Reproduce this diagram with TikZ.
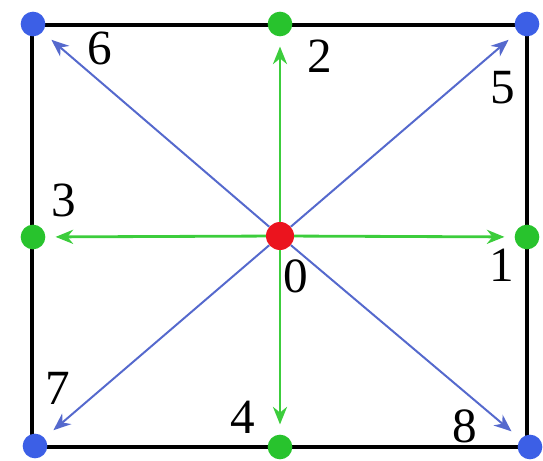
\documentclass[tikz,border=0pt]{standalone}
\usepackage{fontspec}
\setmainfont{Liberation Serif}
\usetikzlibrary{arrows.meta}
\definecolor{dotblue}{RGB}{60,95,230}
\definecolor{arrblue}{RGB}{85,105,205}
\definecolor{dotgreen}{RGB}{40,195,45}
\definecolor{arrgreen}{RGB}{60,205,60}
\definecolor{dotred}{RGB}{235,20,30}

\begin{document}
\begin{tikzpicture}[
    x=0.03cm, y=-0.03cm,
    dot/.style={
        circle,
        inner sep=0pt,
        minimum size=0.74cm,
        fill=#1
    },
    frame/.style={
        line width=3pt,
        black
    },
    bluearr/.style={
        -{Stealth[length=15pt,width=12pt]},
        line width=1.7pt,
        arrblue,
        shorten >=0.35cm
    },
    greenarr/.style={
        -{Stealth[length=15pt,width=12pt]},
        line width=2.4pt,
        arrgreen,
        shorten >=0.3cm
    },
    num/.style={
        font=\fontsize{42}{42}\selectfont
    }
]
\useasboundingbox (0,0) rectangle (543,461);

% Square
\draw[frame] (32,25) rectangle (527,447);

% Lattice points
\node[dot=dotred, minimum size=0.84cm] (o) at (280,236) {};
\node[dot=dotgreen] (d1) at (527,237) {};
\node[dot=dotgreen] (d2) at (280,24) {};
\node[dot=dotgreen] (d3) at (33,237) {};
\node[dot=dotgreen] (d4) at (280,447) {};
\node[dot=dotblue] (d5) at (527,24) {};
\node[dot=dotblue] (d6) at (33,24) {};
\node[dot=dotblue] (d7) at (35,446) {};
\node[dot=dotblue] (d8) at (530,447) {};

% Velocities
\draw[bluearr] (o) -- (d5);
\draw[bluearr] (o) -- (d6);
\draw[bluearr] (o) -- (d7);
\draw[bluearr] (o) -- (d8);
\draw[greenarr] (o) -- (d1);
\draw[greenarr] (o) -- (d2);
\draw[greenarr] (o) -- (d3);
\draw[greenarr] (o) -- (d4);

% Labels
\node[num] (l0) at (296,276) {0};
\node[num] (l1) at (502,265) {1};
\node[num] (l2) at (320,56) {2};
\node[num] (l3) at (64,200) {3};
\node[num] (l4) at (243,417) {4};
\node[num] (l5) at (503,88) {5};
\node[num] (l6) at (100,48) {6};
\node[num] (l7) at (58,388) {7};
\node[num] (l8) at (465,426) {8};

\end{tikzpicture}
\end{document}
